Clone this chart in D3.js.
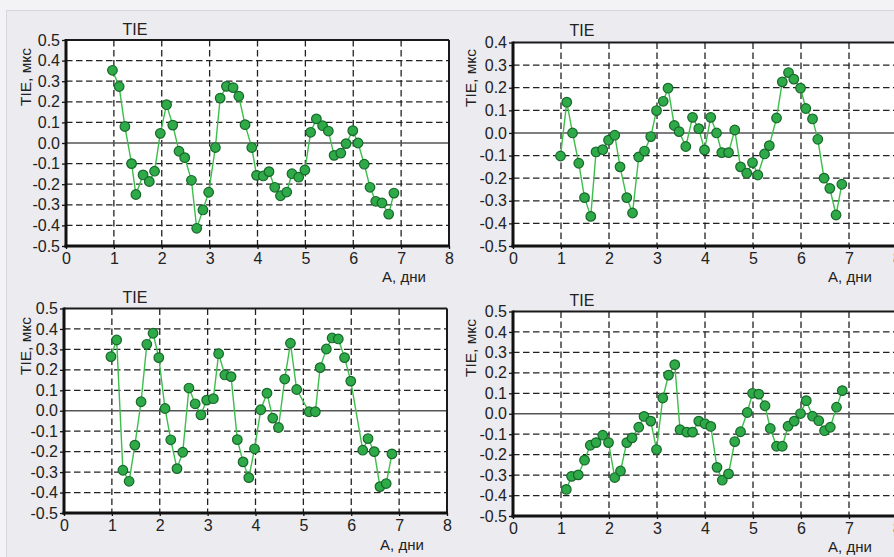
<!DOCTYPE html>
<html><head><meta charset="utf-8">
<script src="https://cdn.jsdelivr.net/npm/d3@7"></script>
<style>
html,body{margin:0;padding:0;background:#ECECF1;overflow:hidden}
text{font-family:"Liberation Sans",Arial,sans-serif;fill:#222}
</style></head>
<body><svg id="c" width="894" height="557"></svg>
<script>
// ---------- data ----------
const xTickValues = [0,1,2,3,4,5,6,7,8];
const yTicksFull = [-0.5,-0.4,-0.3,-0.2,-0.1,0,0.1,0.2,0.3,0.4,0.5];
const yTicksTop2 = [-0.5,-0.4,-0.3,-0.2,-0.1,0,0.1,0.2,0.3,0.4];
const titleText = "TIE";
const yLabelText = "TIE, мкс";
const xLabelText = "А, дни";

const p1X = [0.97,1.11,1.23,1.37,1.46,1.61,1.74,1.85,1.97,2.10,2.23,2.36,2.48,2.62,2.73,2.86,2.98,3.12,3.22,3.35,3.49,3.61,3.74,3.88,3.98,4.12,4.24,4.36,4.48,4.61,4.72,4.86,4.99,5.11,5.23,5.36,5.48,5.60,5.74,5.85,5.99,6.10,6.23,6.35,6.47,6.60,6.74,6.85];
const p1Y = [0.353,0.274,0.08,-0.10,-0.25,-0.155,-0.187,-0.137,0.047,0.186,0.087,-0.04,-0.071,-0.181,-0.414,-0.325,-0.239,-0.022,0.218,0.275,0.269,0.227,0.089,-0.022,-0.157,-0.16,-0.139,-0.215,-0.256,-0.238,-0.149,-0.166,-0.131,0.052,0.117,0.084,0.058,-0.06,-0.049,-0.003,0.06,0.0,-0.103,-0.215,-0.283,-0.291,-0.345,-0.243];

const p2X = [0.99,1.12,1.24,1.37,1.49,1.62,1.73,1.87,1.99,2.12,2.23,2.37,2.49,2.62,2.74,2.87,2.99,3.13,3.23,3.36,3.46,3.60,3.74,3.87,3.99,4.12,4.24,4.35,4.49,4.62,4.74,4.87,4.99,5.10,5.24,5.34,5.49,5.61,5.74,5.85,5.99,6.10,6.24,6.35,6.48,6.60,6.73,6.85];
const p2Y = [-0.102,0.136,0.0,-0.134,-0.286,-0.369,-0.084,-0.074,-0.032,-0.01,-0.15,-0.286,-0.354,-0.106,-0.08,-0.016,0.099,0.14,0.198,0.033,0.006,-0.06,0.069,0.019,-0.075,0.069,0.0,-0.087,-0.087,0.013,-0.15,-0.178,-0.131,-0.186,-0.093,-0.056,0.066,0.226,0.267,0.238,0.198,0.108,0.062,-0.028,-0.2,-0.245,-0.363,-0.227];

const p3X = [0.98,1.10,1.23,1.36,1.48,1.61,1.73,1.86,1.98,2.11,2.23,2.36,2.48,2.61,2.74,2.86,2.98,3.12,3.23,3.36,3.49,3.62,3.74,3.86,3.98,4.11,4.24,4.36,4.48,4.61,4.73,4.86,5.12,5.25,5.35,5.48,5.60,5.73,5.86,5.99,6.24,6.35,6.48,6.60,6.73,6.85];
const p3Y = [0.265,0.346,-0.291,-0.345,-0.168,0.044,0.325,0.379,0.26,0.011,-0.142,-0.283,-0.203,0.111,0.034,-0.02,0.052,0.059,0.279,0.175,0.167,-0.141,-0.25,-0.327,-0.186,0.005,0.086,-0.036,-0.082,0.155,0.33,0.104,-0.005,-0.005,0.211,0.302,0.356,0.351,0.26,0.145,-0.193,-0.136,-0.2,-0.371,-0.356,-0.211];

const p4X = [1.11,1.22,1.36,1.49,1.61,1.73,1.87,1.99,2.12,2.24,2.37,2.48,2.62,2.73,2.87,2.99,3.12,3.24,3.37,3.48,3.62,3.74,3.87,4.00,4.12,4.25,4.36,4.49,4.62,4.74,4.88,4.99,5.12,5.25,5.36,5.49,5.61,5.73,5.86,5.99,6.11,6.24,6.37,6.49,6.61,6.74,6.86];
const p4Y = [-0.37,-0.306,-0.299,-0.227,-0.154,-0.141,-0.105,-0.141,-0.312,-0.28,-0.141,-0.118,-0.066,-0.013,-0.036,-0.175,0.077,0.189,0.24,-0.078,-0.09,-0.09,-0.036,-0.049,-0.062,-0.262,-0.325,-0.294,-0.136,-0.088,0.006,0.1,0.096,0.039,-0.072,-0.159,-0.159,-0.061,-0.036,0.001,0.064,-0.012,-0.034,-0.083,-0.066,0.032,0.113];

// ---------- layout ----------
const layout = [
  {xs:p1X, ys:p1Y, yt:yTicksFull, left:66,  right:449, top:40,  bottom:246, titleX:135, titleY:35,  ylx:31,  yly:77,  xlx:404, xly:282},
  {xs:p2X, ys:p2Y, yt:yTicksTop2, left:513, right:897, top:42.5,bottom:246, titleX:582, titleY:36,  ylx:476, yly:78,  xlx:850, xly:282},
  {xs:p3X, ys:p3Y, yt:yTicksFull, left:64,  right:447, top:308.5,bottom:513,titleX:135, titleY:303, ylx:31,  yly:346, xlx:402, xly:550},
  {xs:p4X, ys:p4Y, yt:yTicksFull, left:513, right:897, top:311.5,bottom:516,titleX:582, titleY:306, ylx:476, yly:348, xlx:850, xly:552}
];

const svg = d3.select("#c");
svg.append("rect").attr("width",894).attr("height",557).attr("fill","#F3F3F6");
svg.append("rect").attr("x",6.5).attr("y",10.5).attr("width",900).attr("height",560)
  .attr("fill","#EBEBF0").attr("stroke","#D6D6DE").attr("stroke-width",1);
const fmt = v => v.toFixed(1);

function drawPanel(L){
  const g = svg.append("g");
  const yMax = L.yt[L.yt.length-1];
  const x = d3.scaleLinear().domain([0,8]).range([L.left,L.right]);
  const y = d3.scaleLinear().domain([-0.5,yMax]).range([L.bottom,L.top]);

  g.append("rect").attr("x",L.left).attr("y",L.top)
    .attr("width",L.right-L.left).attr("height",L.bottom-L.top).attr("fill","#fff");

  // grid
  g.selectAll(".gh").data(L.yt.filter(v => Math.abs(v)>1e-9 && v>-0.5+1e-9 && v<yMax-1e-9)).enter()
    .append("line").attr("x1",L.left).attr("x2",L.right)
    .attr("y1",d=>y(d)).attr("y2",d=>y(d))
    .attr("stroke","#222").attr("stroke-width",1.3).attr("stroke-dasharray","6.5,3.5");
  g.selectAll(".gv").data(xTickValues.filter(v => v>0 && v<8)).enter()
    .append("line").attr("y1",L.top).attr("y2",L.bottom)
    .attr("x1",d=>x(d)).attr("x2",d=>x(d))
    .attr("stroke","#222").attr("stroke-width",1.3).attr("stroke-dasharray","6.5,3.5");
  // zero line
  g.append("line").attr("x1",L.left).attr("x2",L.right).attr("y1",y(0)).attr("y2",y(0))
    .attr("stroke","#555").attr("stroke-width",1.6);

  // series
  const pts = L.xs.map((v,i)=>[v,L.ys[i]]);
  g.append("path").datum(pts)
    .attr("d", d3.line().x(d=>x(d[0])).y(d=>y(d[1])))
    .attr("fill","none").attr("stroke","#3CBE4B").attr("stroke-width",1.4);
  g.selectAll(".m").data(pts).enter().append("circle")
    .attr("cx",d=>x(d[0])).attr("cy",d=>y(d[1])).attr("r",4.8)
    .attr("fill","#2EAA48").attr("stroke","#17682A").attr("stroke-width",1.2);

  // frame
  g.append("line").attr("x1",L.left).attr("x2",L.right).attr("y1",L.top).attr("y2",L.top)
    .attr("stroke","#1a1a1a").attr("stroke-width",2);
  g.append("line").attr("x1",L.right).attr("x2",L.right).attr("y1",L.top).attr("y2",L.bottom)
    .attr("stroke","#1a1a1a").attr("stroke-width",2);

  // axes
  const ax = g.append("g").attr("transform",`translate(0,${L.bottom})`)
    .call(d3.axisBottom(x).tickValues(xTickValues).tickFormat(d=>d).tickSize(3).tickPadding(4));
  const ay = g.append("g").attr("transform",`translate(${L.left},0)`)
    .call(d3.axisLeft(y).tickValues(L.yt).tickFormat(fmt).tickSize(4).tickPadding(2));
  [ax,ay].forEach(a=>{
    a.select(".domain").attr("stroke","#111").attr("stroke-width",3);
    a.selectAll(".tick line").attr("stroke","#111").attr("stroke-width",1.3);
    a.selectAll("text").attr("font-size",16).attr("font-family","Liberation Sans, Arial, sans-serif").attr("fill","#222");
  });
  ax.select(".domain").attr("d",`M${L.left-1.5},0H${L.right+1}`);
  ay.select(".domain").attr("d",`M0,${L.top-1}V${L.bottom+1.5}`);

  // texts
  g.append("text").attr("x",L.titleX).attr("y",L.titleY).attr("text-anchor","middle")
    .attr("font-size",16).text(titleText);
  g.append("text").attr("transform",`translate(${L.ylx},${L.yly}) rotate(-90)`)
    .attr("text-anchor","middle").attr("font-size",15.5).text(yLabelText);
  g.append("text").attr("x",L.xlx).attr("y",L.xly).attr("text-anchor","middle")
    .attr("font-size",15).text(xLabelText);
}
layout.forEach(drawPanel);
</script></body></html>
